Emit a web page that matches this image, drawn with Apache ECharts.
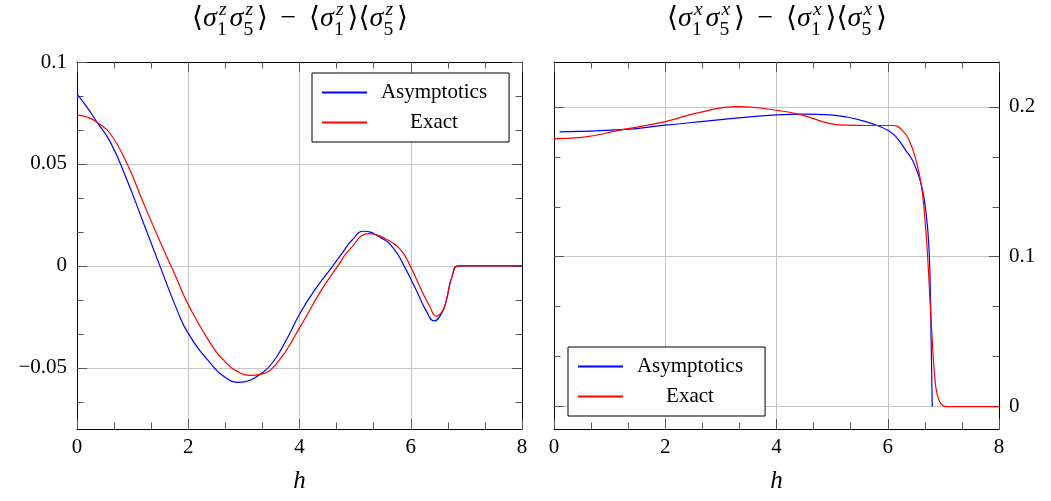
<!DOCTYPE html>
<html><head><meta charset="utf-8">
<script src="https://cdn.jsdelivr.net/npm/echarts@6/dist/echarts.min.js"></script>
<style>html,body{margin:0;padding:0;background:#fff}#c{width:1051px;height:501px}</style>
</head><body><div id="c"></div>
<script>
// ---------- data ----------
const seriesNames = ['Asymptotics', 'Exact'];

// left panel: <s1z s5z> - <s1z><s5z>
const hAsymZ = [0, 0.15, 0.36, 0.6, 0.9, 1.2, 1.49, 1.8, 2.0, 2.4, 2.69, 2.91, 3.1, 3.29, 3.5, 3.75, 4.0, 4.27, 4.60, 4.78, 4.95, 5.15, 5.45, 5.68, 5.88, 6.10, 6.28, 6.42, 6.55, 6.64, 6.74, 6.85, 7.2, 8];
const asymZ  = [0.0843, 0.0790, 0.0705, 0.0607, 0.0420, 0.0207, 0, -0.0217, -0.0331, -0.0478, -0.0551, -0.0571, -0.0562, -0.0532, -0.048, -0.037, -0.0237, -0.012, 0, 0.0068, 0.0128, 0.0170, 0.0140, 0.0090, 0, -0.0120, -0.0222, -0.0270, -0.0235, -0.0168, -0.0054, 0, 0, 0];
const hExactZ = [0, 0.2, 0.36, 0.6, 0.9, 1.2, 1.5, 1.69, 1.8, 2.0, 2.4, 2.69, 2.9, 3.11, 3.29, 3.6, 4.0, 4.39, 4.69, 4.89, 5.26, 5.55, 5.80, 5.99, 6.19, 6.34, 6.46, 6.57, 6.64, 6.74, 6.87, 7.2, 8];
const exactZ  = [0.0741, 0.0728, 0.0705, 0.0648, 0.0501, 0.0305, 0.0115, 0, -0.0068, -0.0190, -0.0380, -0.0478, -0.0520, -0.0537, -0.0532, -0.0475, -0.0304, -0.012, 0, 0.0077, 0.0158, 0.0132, 0.0085, 0, -0.0118, -0.0198, -0.0247, -0.0222, -0.0168, -0.0054, 0, 0, 0];

// right panel: <s1x s5x> - <s1x><s5x>
const hAsymX = [0.1, 1.2, 2.0, 3.0, 4.0, 4.5, 4.96, 5.26, 5.56, 5.86, 6.0, 6.15, 6.33, 6.45, 6.60, 6.69, 6.74, 6.765, 6.78, 6.80];
const asymX  = [0.1833, 0.1848, 0.1878, 0.1915, 0.1947, 0.1952, 0.1947, 0.1933, 0.1907, 0.1869, 0.1844, 0.1800, 0.1707, 0.1640, 0.1486, 0.1286, 0.1064, 0.0775, 0.0442, 0];
const hExactX = [0, 0.5, 1.16, 2.0, 2.6, 3.31, 4.0, 4.45, 4.96, 5.26, 5.6, 5.86, 6.09, 6.27, 6.39, 6.51, 6.60, 6.66, 6.71, 6.75, 6.80, 6.84, 6.885, 6.96, 7.05, 8];
const exactX  = [0.1789, 0.1797, 0.1844, 0.1902, 0.1962, 0.2002, 0.1978, 0.1947, 0.1889, 0.1878, 0.1876, 0.1876, 0.1876, 0.1840, 0.1773, 0.1640, 0.1486, 0.1286, 0.1042, 0.0775, 0.0442, 0.022, 0.0087, 0.0016, 0, 0];

// axes
const xRange = [0, 8];
const xTickStep = 2;
const zRange = [-0.08, 0.1];
const zMajor = [-0.05, 0, 0.05, 0.1];
const zMinor = [-0.0666667, -0.0333333, -0.0166667, 0.0166667, 0.0333333, 0.0666667, 0.0833333];
const xcRange = [-0.015, 0.23];
const xcMajor = [0, 0.1, 0.2];
const xcMinor = [0.0333333, 0.0666667, 0.1333333, 0.1666667];

// ---------- styling ----------
const FONT = '"Liberation Serif", "DejaVu Serif", serif';
const BLUE = '#0000ff', RED = '#ff0000';
const TICK = '#555', GRIDC = '#c6c6c6';
const G = [{left: 77, top: 62, width: 445, height: 367}, {left: 554, top: 62, width: 445, height: 367}];

function pairs(xs, ys) { return xs.map((x, i) => [x, ys[i]]); }
const fmt = v => String(+v.toFixed(4)).replace('-', '\u2212');
const lblStyle = {fontFamily: FONT, fontSize: 21, color: '#000'};

function xAxes(gi) {
  const common = {
    gridIndex: gi, type: 'value', min: xRange[0], max: xRange[1], interval: xTickStep,
    axisLine: {show: true, onZero: false, lineStyle: {color: '#000', width: 1}},
    axisTick: {show: true, inside: true, length: 10, lineStyle: {color: TICK}},
    minorTick: {show: true, splitNumber: 3, length: 6.5, lineStyle: {color: TICK}},
    minorSplitLine: {show: false}
  };
  return [
    Object.assign({}, common, {position: 'bottom',
      splitLine: {show: true, lineStyle: {color: GRIDC, width: 1}},
      axisLabel: Object.assign({show: true, margin: 8, formatter: fmt}, lblStyle),
      name: 'h', nameLocation: 'middle', nameGap: 40,
      nameTextStyle: {fontFamily: FONT, fontSize: 25, fontStyle: 'italic', color: '#000'}}),
    Object.assign({}, common, {position: 'top', splitLine: {show: false}, axisLabel: {show: false}})
  ];
}
function yAxes(gi, range, major, minor, labelSide, splitNumber) {
  const other = labelSide === 'left' ? 'right' : 'left';
  const base = {gridIndex: gi, type: 'value', min: range[0], max: range[1], splitNumber: splitNumber,
    minorTick: {show: false}, splitLine: {show: false}, axisLabel: {show: false}};
  return [
    Object.assign({}, base, {position: labelSide,
      axisLine: {show: true, onZero: false, lineStyle: {color: '#000', width: 1}},
      axisTick: {show: true, inside: true, length: 10, customValues: major, lineStyle: {color: TICK}},
      axisLabel: Object.assign({show: true, margin: 10, customValues: major, formatter: fmt}, lblStyle),
      splitLine: {show: true, lineStyle: {color: GRIDC, width: 1}}}),
    Object.assign({}, base, {position: other,
      axisLine: {show: true, onZero: false, lineStyle: {color: '#000', width: 1}},
      axisTick: {show: true, inside: true, length: 10, customValues: major, lineStyle: {color: TICK}}}),
    Object.assign({}, base, {position: labelSide, axisLine: {show: false, onZero: false},
      axisTick: {show: true, inside: true, length: 6.5, customValues: minor, lineStyle: {color: TICK}}}),
    Object.assign({}, base, {position: other, axisLine: {show: false, onZero: false},
      axisTick: {show: true, inside: true, length: 6.5, customValues: minor, lineStyle: {color: TICK}}})
  ];
}
function line(name, data, color, xi, yi) {
  return {type: 'line', name: name, data: data, xAxisIndex: xi, yAxisIndex: yi,
    symbol: 'none', showSymbol: false, smooth: 0.5, clip: true,
    lineStyle: {color: color, width: 1.2}, itemStyle: {color: color}, z: 5};
}
function legendAt(left, top) {
  return {data: seriesNames, left: left, top: top, orient: 'vertical', selectedMode: false,
    padding: [9, 22, 9, 9], itemGap: 9, itemWidth: 45, itemHeight: 14,
    borderColor: '#000', borderWidth: 1, borderRadius: 0, backgroundColor: '#fff',
    itemStyle: {opacity: 0},
    formatter: n => '{c|' + n + '}',
    textStyle: {fontFamily: FONT, fontSize: 21, color: '#000',
      rich: {c: {width: 124, align: 'center', fontFamily: FONT, fontSize: 21, color: '#000'}}}};
}

// ---------- math titles laid out as real text ----------
function mathTitle(cx, baseY, S, comp) {
  const ctx = document.createElement('canvas').getContext('2d');
  const s = S * 0.7;
  const items = [];
  let x = 0;
  function put(text, italic, size, dx, dy) {
    const f = (italic ? 'italic ' : '') + size + 'px ' + FONT;
    ctx.font = f;
    const w = ctx.measureText(text).width;
    items.push({text: text, font: f, x: x + dx, dy: dy, size: size});
    return w;
  }
  const glyph = (t, it) => { x += put(t, it, S, 0, 0); };
  const open = () => { glyph('\u27E8', false); };
  const close = () => { x += 0.04 * S; glyph('\u27E9', false); };
  const stack = (sup, sub) => {
    const w1 = put(sup, true, s, 0.08 * S, -0.43 * S);
    const w2 = put(sub, false, s, 0.01 * S, 0.30 * S);
    x += Math.max(w1 + 0.08 * S, w2) + 0.1 * S;
  };
  open(); glyph('\u03C3', true); stack(comp, '1'); glyph('\u03C3', true); stack(comp, '5'); close();
  x += 0.45 * S; glyph('\u2212', false); x += 0.45 * S;
  open(); glyph('\u03C3', true); stack(comp, '1'); close();
  open(); glyph('\u03C3', true); stack(comp, '5'); close();
  const left = cx - x / 2;
  return items.map(it => ({
    type: 'text', x: left + it.x, y: baseY + it.dy - 0.34 * it.size, silent: true,
    style: {text: it.text, font: it.font, fill: '#000', align: 'left', verticalAlign: 'middle',
      textAlign: 'left', textVerticalAlign: 'middle'}
  }));
}

const chart = echarts.init(document.getElementById('c'), null, {renderer: 'canvas'});
chart.setOption({
  animation: false,
  backgroundColor: '#fff',
  grid: G,
  xAxis: [].concat(xAxes(0), xAxes(1)),
  yAxis: [].concat(yAxes(0, zRange, zMajor, zMinor, 'left', 4), yAxes(1, xcRange, xcMajor, xcMinor, 'right', 2)),
  legend: [legendAt(312, 73), legendAt(568, 347)],
  series: [
    line(seriesNames[0], pairs(hAsymZ, asymZ), BLUE, 0, 0),
    line(seriesNames[1], pairs(hExactZ, exactZ), RED, 0, 0),
    line(seriesNames[0], pairs(hAsymX, asymX), BLUE, 2, 4),
    line(seriesNames[1], pairs(hExactX, exactX), RED, 2, 4)
  ],
  graphic: [].concat(mathTitle(300, 28.5, 28, 'z'), mathTitle(777, 28.5, 28, 'x'))
});
</script></body></html>
